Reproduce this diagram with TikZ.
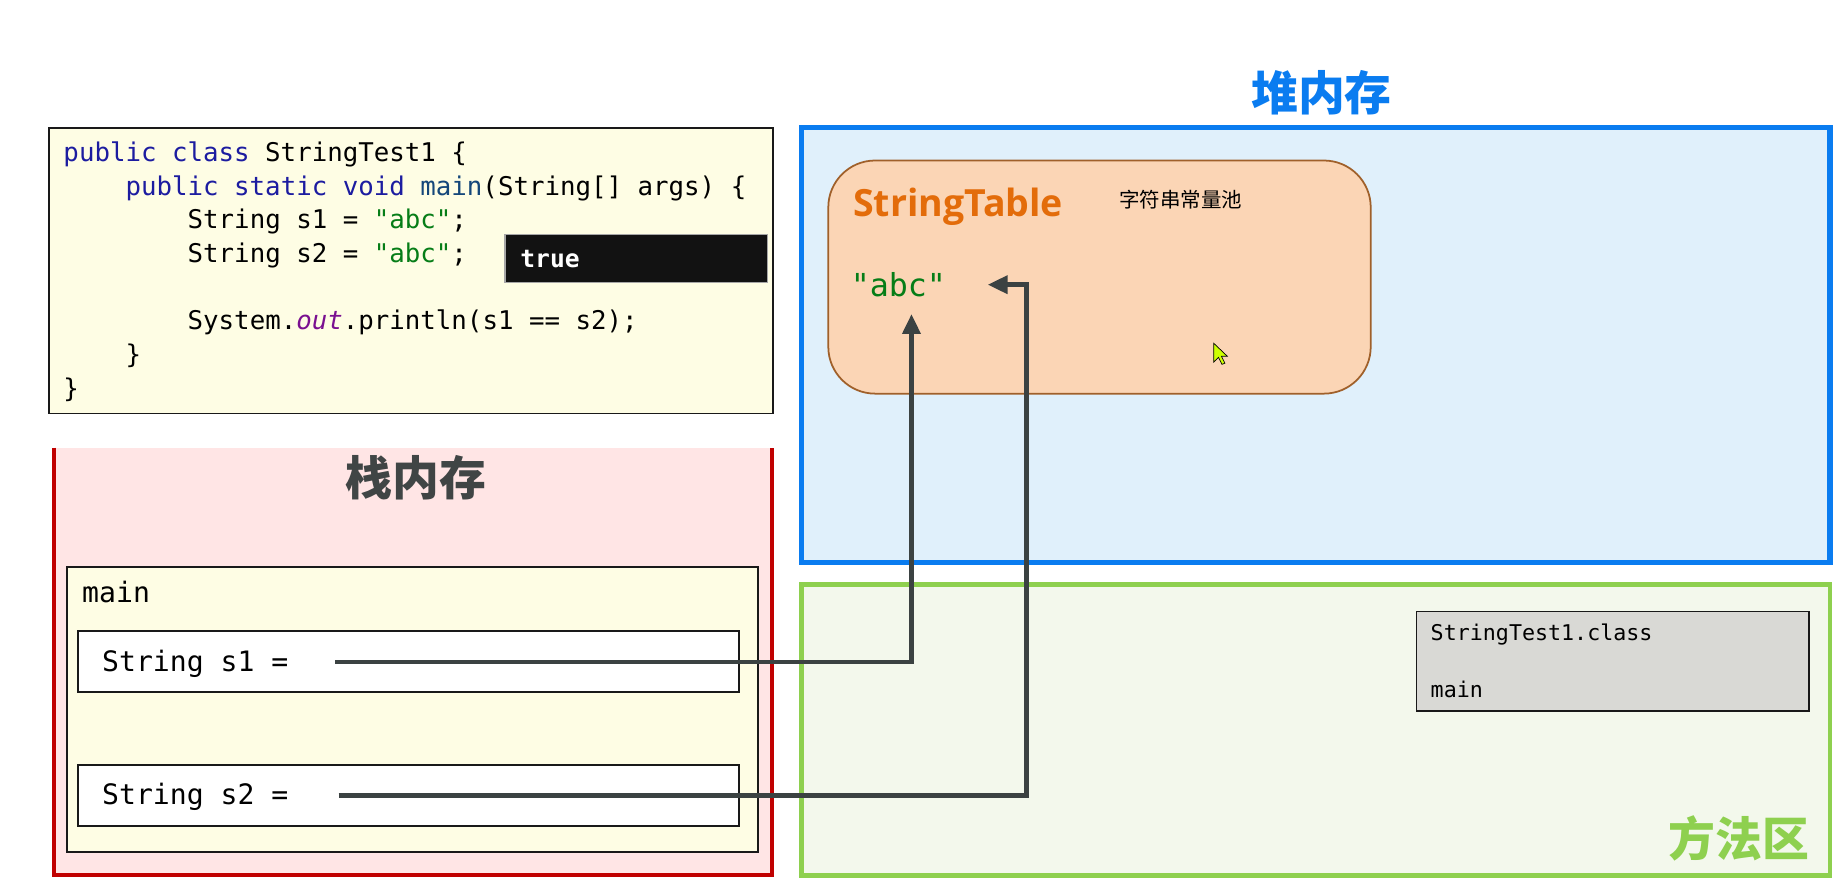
\documentclass[tikz,border=0pt]{standalone}
\usepackage{fontspec}
\usetikzlibrary{arrows.meta}
\setmonofont{DejaVu Sans Mono}
\newfontfamily\cjk{Noto Sans CJK SC}
\newfontfamily\stfont{Open Sans}
\definecolor{kw}{HTML}{1C1CA0}
\definecolor{fn}{HTML}{15477A}
\definecolor{str}{HTML}{067D17}
\definecolor{fld}{HTML}{7A1090}
\definecolor{codebg}{HTML}{FEFDE4}
\definecolor{stackbg}{HTML}{FFE5E5}
\definecolor{stackbd}{HTML}{C00000}
\definecolor{heapbg}{HTML}{E0F0FB}
\definecolor{heapbd}{HTML}{0A7CF0}
\definecolor{methbg}{HTML}{F3F8EC}
\definecolor{methbd}{HTML}{8ED04F}
\definecolor{tablebg}{HTML}{FBD5B5}
\definecolor{tablebd}{HTML}{A0602A}
\definecolor{tabletx}{HTML}{E36C0A}
\definecolor{conn}{HTML}{3B4242}
\definecolor{classbg}{HTML}{D9D9D5}
\definecolor{titlegray}{HTML}{404545}
\tikzset{
  codeline/.style={anchor=base west, inner sep=0pt, font=\ttfamily\fontsize{22pt}{26pt}\selectfont},
  varline/.style={anchor=base west, inner sep=0pt, font=\ttfamily\fontsize{24pt}{28pt}\selectfont},
  classline/.style={anchor=base west, inner sep=0pt, font=\ttfamily\fontsize{18.5pt}{22pt}\selectfont},
  cjktitle/.style={inner sep=0pt, font=\cjk\bfseries\fontsize{40pt}{44pt}\selectfont},
  conn/.style={draw=conn, line width=4pt, -{Triangle[length=17pt,width=15pt]}},
  thinbox/.style={draw=black!90, line width=1.5pt}
}
\begin{document}
\begin{tikzpicture}[x=1pt,y=-1pt]
\useasboundingbox[fill=white] (0,0) rectangle (1568,755);

% code box
\path[thinbox, fill=codebg] (42,109) rectangle (660,353);
\node[codeline] (l1) at (54,138) {\textcolor{kw}{public class} StringTest1 \{};
\node[codeline] (l2) at (107,167) {\textcolor{kw}{public static void} \textcolor{fn}{main}(String[] args) \{};
\node[codeline] (l3) at (160,195) {String s1 = \textcolor{str}{"abc"};};
\node[codeline] (l4) at (160,224) {String s2 = \textcolor{str}{"abc"};};
\node[codeline] (l5) at (160,281) {System.\textcolor{fld}{\itshape out}.println(s1 == s2);};
\node[codeline] (l6) at (107,310) {\}};
\node[codeline] (l7) at (54,339) {\}};

% true popup
\path[draw=gray!70, line width=1pt, fill=black!93] (431,200) rectangle (655,241);
\node[anchor=base west, inner sep=0pt, text=white, font=\ttfamily\bfseries\fontsize{21pt}{24pt}\selectfont] (true) at (444,228) {true};

% stack memory
\path[fill=stackbg] (46,382) rectangle (659,747);
\draw[draw=stackbd, line width=3.5pt] (46,382) -- (46,747) -- (659,747) -- (659,382);
\node[cjktitle, text=titlegray] (stacktitle) at (355,408) {栈内存};
\path[thinbox, fill=codebg] (57,484) rectangle (647,727);
\node[varline] (mainlbl) at (70,514) {main};
\node[thinbox, fill=white, minimum width=564pt, minimum height=52pt, anchor=north west, inner sep=0pt] (s1box) at (66,538) {};
\node[thinbox, fill=white, minimum width=564pt, minimum height=52pt, anchor=north west, inner sep=0pt] (s2box) at (66,652) {};
\node[varline] (s1lbl) at (87,573) {String s1 =};
\node[varline] (s2lbl) at (87,687) {String s2 =};

% heap
\node[cjktitle, text=heapbd] (heaptitle) at (1128,79) {堆内存};
\path[draw=heapbd, line width=4.5pt, fill=heapbg] (684,109) rectangle (1562,480);
\path[draw=tablebd, line width=1.5pt, fill=tablebg, rounded corners=40pt] (707,137) rectangle (1170,336);
\node[anchor=base west, inner sep=0pt, text=tabletx, font=\stfont\bfseries\fontsize{32pt}{36pt}\selectfont] (st) at (728,185) {StringTable};
\node[anchor=base west, inner sep=0pt, font=\cjk\fontsize{17.5pt}{20pt}\selectfont] (pool) at (955,177) {字符串常量池};
\node[anchor=base west, inner sep=0pt, text=str, font=\ttfamily\fontsize{27pt}{30pt}\selectfont] (abc) at (726,253) {"abc"};
% cursor
\path[draw=black, line width=0.6pt, fill={rgb,255:red,205;green,255;blue,0}] (1036,293) -- (1036,309) -- (1040,305) -- (1043,311) -- (1045.5,310) -- (1042.5,304) -- (1047.5,304) -- cycle;

% method area
\path[draw=methbd, line width=4pt, fill=methbg] (684,499) rectangle (1562,747);
\node[cjktitle, text=methbd] (methtitle) at (1484,716) {方法区};
\path[thinbox, fill=classbg] (1209,522) rectangle (1544,607);
\node[classline] (cls) at (1221,547) {StringTest1.class};
\node[classline] (clsmain) at (1221,595) {main};

% connectors
\coordinate (s1start) at (286,565);
\coordinate (s2start) at (289,679);
\coordinate (t1) at (778,268);
\coordinate (b2) at (876,243);
\coordinate (t2) at (843,243);
\draw[conn] (s1start) -| (t1);
\draw[conn] (s2start) -| (b2) -- (t2);
\end{tikzpicture}
\end{document}
